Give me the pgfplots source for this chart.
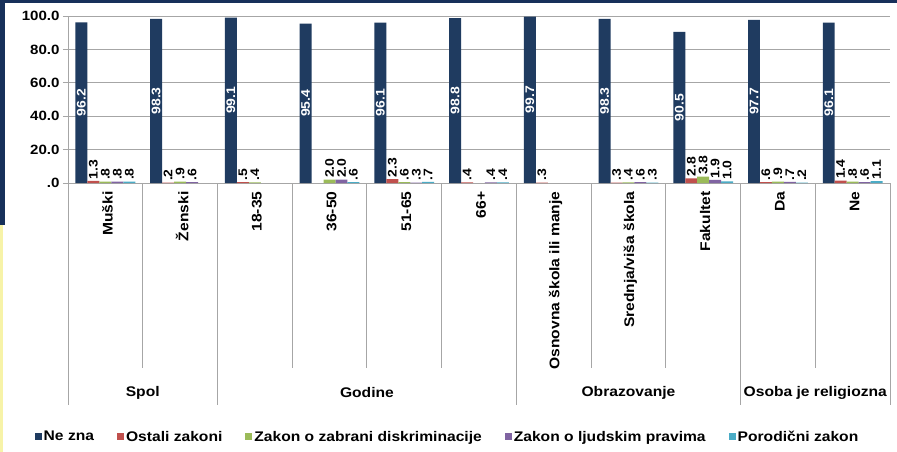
\documentclass[border=0pt]{standalone}
\usepackage{fontspec}
\setmainfont{Liberation Sans}[FakeStretch=1.12]
\usepackage{pgfplots}
\pgfplotsset{compat=1.18}
\definecolor{cNavy}{HTML}{1F3B60}
\definecolor{cFrame}{HTML}{17305A}
\definecolor{cRed}{HTML}{C0504D}
\definecolor{cGreen}{HTML}{9BBB59}
\definecolor{cPurple}{HTML}{8064A2}
\definecolor{cCyan}{HTML}{4BACC6}
\definecolor{cGrid}{HTML}{A6A6A6}
\definecolor{cYel}{HTML}{F7F3A8}
\begin{document}
\begin{tikzpicture}
\path[use as bounding box] (0bp,0bp) rectangle (897bp,-452bp);
\fill[white] (0bp,0bp) rectangle (897bp,-452bp);
\fill[cFrame] (0bp,0bp) rectangle (897bp,-3bp);
\fill[cFrame] (0bp,0bp) rectangle (5bp,-225bp);
\fill[cYel] (0bp,-225bp) rectangle (3bp,-452bp);
\begin{axis}[
  at={(68bp,-183bp)}, anchor=south west,
  scale only axis, width=822bp, height=167bp,
  ybar, bar width=0.16, 
  xmin=-0.5, xmax=10.5, ymin=0, ymax=100,
  enlargelimits=false, clip=false,
  axis x line*=bottom, axis y line*=left,
  axis line style={cGrid, line width=1pt},
  ymajorgrids, grid style={cGrid, line width=0.8pt},
  ytick={0,20,40,60,80,100},
  xtick={0,...,10},
  xticklabels={Muški,Ženski,18-35,36-50,51-65,66+,Osnovna škola ili manje,Srednja/viša škola,Fakultet,Da,Ne},
  x tick style={draw=none},
  y tick style={cGrid, line width=0.8pt},
  tick align=outside, major tick length=5bp,
  xticklabel style={rotate=90, anchor=east, font=\bfseries\fontsize{14}{14}\selectfont, yshift=-2bp},
  yticklabel style={font=\bfseries\fontsize{13.5}{13.5}\selectfont},
  /pgf/number format/.cd, fixed, fixed zerofill, precision=1, skip 0., assume math mode=true,
  /pgfplots/.cd,
  legend style={at={(0.4617,-1.52)}, anchor=center, draw=none, fill=none,
    legend columns=5, font=\bfseries\fontsize{14}{14}\selectfont,
    /tikz/every even column/.append style={column sep=21bp}},
  legend image code/.code={\fill[#1] (0bp,-3.5bp) rectangle (7bp,3.5bp);},
  every node near coord/.append style={font=\bfseries\fontsize{12.5}{12.5}\selectfont, rotate=90, anchor=west, inner sep=1.5bp},
]
\addplot[fill=cNavy, draw=none, bar shift=-0.32,
  nodes near coords,
  visualization depends on=rawy \as \rawy,
  every node near coord/.append style={white, anchor=center, xshift={-0.835*\rawy*1bp}}]
  coordinates {(0,96.2) (1,98.3) (2,99.1) (3,95.4) (4,96.1) (5,98.8) (6,99.7) (7,98.3) (8,90.5) (9,97.7) (10,96.1)};
\addplot[fill=cRed, draw=none, bar shift=-0.16, nodes near coords]
  coordinates {(0,1.3) (1,0.2) (2,0.5) (4,2.3) (5,0.4) (6,0.3) (7,0.3) (8,2.8) (9,0.6) (10,1.4)};
\addplot[fill=cGreen, draw=none, bar shift=0, nodes near coords]
  coordinates {(0,0.8) (1,0.9) (2,0.4) (3,2.0) (4,0.6) (7,0.4) (8,3.8) (9,0.9) (10,0.8)};
\addplot[fill=cPurple, draw=none, bar shift=0.16, nodes near coords]
  coordinates {(0,0.8) (1,0.6) (3,2.0) (4,0.3) (5,0.4) (7,0.6) (8,1.9) (9,0.7) (10,0.6)};
\addplot[fill=cCyan, draw=none, bar shift=0.32, nodes near coords]
  coordinates {(0,0.8) (3,0.6) (4,0.7) (5,0.4) (7,0.3) (8,1.0) (9,0.2) (10,1.1)};
\legend{Ne zna,Ostali zakoni,Zakon o zabrani diskriminacije,Zakon o ljudskim pravima,Porodični zakon}
% separators
\pgfplotsinvokeforeach{0.5,2.5,3.5,4.5,6.5,7.5,9.5}{
  \draw[cGrid, line width=1pt] (axis cs:#1,0) -- ++(0bp,-185bp);
}
\pgfplotsinvokeforeach{-0.5,1.5,5.5,8.5,10.5}{
  \draw[cGrid, line width=1pt] (axis cs:#1,0) -- ++(0bp,-222bp);
}
\node[font=\bfseries\fontsize{14}{14}\selectfont] at ([yshift=-210bp]axis cs:0.5,0) {Spol};
\node[font=\bfseries\fontsize{14}{14}\selectfont] at ([yshift=-210bp]axis cs:3.5,0) {Godine};
\node[font=\bfseries\fontsize{14}{14}\selectfont] at ([yshift=-210bp]axis cs:7,0) {Obrazovanje};
\node[font=\bfseries\fontsize{14}{14}\selectfont] at ([yshift=-210bp]axis cs:9.5,0) {Osoba je religiozna};
\end{axis}
\end{tikzpicture}
\end{document}
